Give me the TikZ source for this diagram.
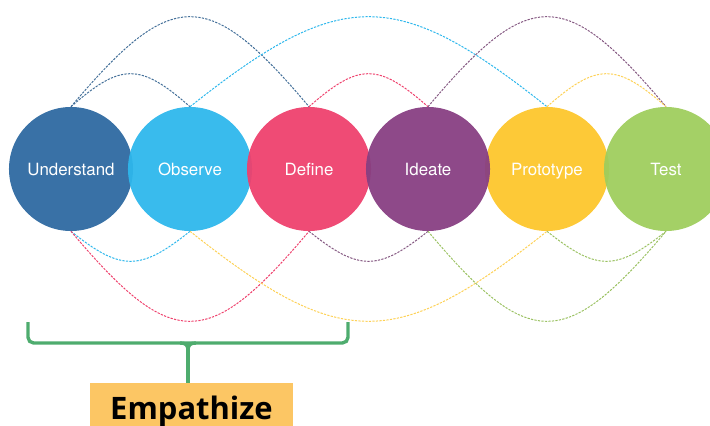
\documentclass[tikz,border=0pt]{standalone}
\usepackage{fontspec}
\setmainfont{TeX Gyre Heros}
\newfontfamily\tagfont{Open Sans}
\usetikzlibrary{positioning}

\definecolor{undblue}{RGB}{45,104,160}
\definecolor{obsblue}{RGB}{45,183,236}
\definecolor{defpink}{RGB}{238,64,108}
\definecolor{idepurple}{RGB}{135,62,130}
\definecolor{proyellow}{RGB}{253,198,42}
\definecolor{tesgreen}{RGB}{158,205,92}
\definecolor{bracegreen}{RGB}{78,172,110}
\definecolor{boxorange}{RGB}{252,198,100}

\begin{document}
\begin{tikzpicture}[x=0.025cm,y=-0.025cm,
  stage/.style={circle,minimum size=3.1cm,inner sep=0pt,fill opacity=0.94,
    text opacity=1,text=white,text height=8.6pt,text depth=0pt,
    font=\fontsize{12}{14}\selectfont},
  link/.style={line width=0.7pt,dash pattern=on 1.6pt off 0.9pt},
  bracket/.style={bracegreen,line width=2.4pt}]
  \useasboundingbox (0,0) rectangle (710,426);
  \clip (0,0) rectangle (710,426);
  % the six stages, prototype laid down before ideate
  \foreach \name/\txt/\col/\x in {understand/Understand/undblue/71,
      observe/Observe/obsblue/190, define/Define/defpink/309,
      prototype/Prototype/proyellow/547, ideate/Ideate/idepurple/428,
      test/Test/tesgreen/666}
    \node[stage,fill=\col] (\name) at (\x,169) {\txt};

  % arcs over the top
  \draw[link,undblue!75!gray] (understand.north) .. controls +(101,-120) and +(-101,-120) .. (define.north);
  \draw[link,undblue!75!gray] (understand.north) .. controls +(50,-44) and +(-50,-44) .. (observe.north);
  \draw[link,obsblue] (observe.north) .. controls +(151,-120) and +(-151,-120) .. (prototype.north);
  \draw[link,defpink] (define.north) .. controls +(50,-44) and +(-50,-44) .. (ideate.north);
  \draw[link,idepurple!60!gray] (ideate.north) .. controls +(101,-120) and +(-101,-120) .. (test.north);
  \draw[link,proyellow!80!white] (prototype.north) .. controls +(50,-44) and +(-50,-44) .. (test.north);

  % arcs underneath
  \draw[link,obsblue] (understand.south) .. controls +(50,40) and +(-50,40) .. (observe.south);
  \draw[link,defpink] (understand.south) .. controls +(101,120) and +(-101,120) .. (define.south);
  \draw[link,proyellow!80!white] (observe.south) .. controls +(151,120) and +(-151,120) .. (prototype.south);
  \draw[link,idepurple!60!gray] (define.south) .. controls +(50,40) and +(-50,40) .. (ideate.south);
  \draw[link,tesgreen!85!gray] (ideate.south) .. controls +(101,120) and +(-101,120) .. (test.south);
  \draw[link,tesgreen!85!gray] (prototype.south) .. controls +(50,40) and +(-50,40) .. (test.south);

  % bracket over the first three stages
  \draw[bracket,rounded corners=4pt] (28,322) -- (28,343) -- (348,343) -- (348,322);
  \coordinate (tip) at (188,343);
  \node[fill=boxorange,minimum width=5.075cm,minimum height=1.4cm,inner sep=0pt,
    font=\tagfont\bfseries\fontsize{22}{26}\selectfont] (empathize) at (191.5,411) {Empathize};
  \draw[bracket] (180,343) .. controls (186,343) and (188,345) .. (188,351)
    .. controls (188,345) and (190,343) .. (196,343);
  \draw[bracket] (tip) -- (tip |- empathize.north);
\end{tikzpicture}
\end{document}
